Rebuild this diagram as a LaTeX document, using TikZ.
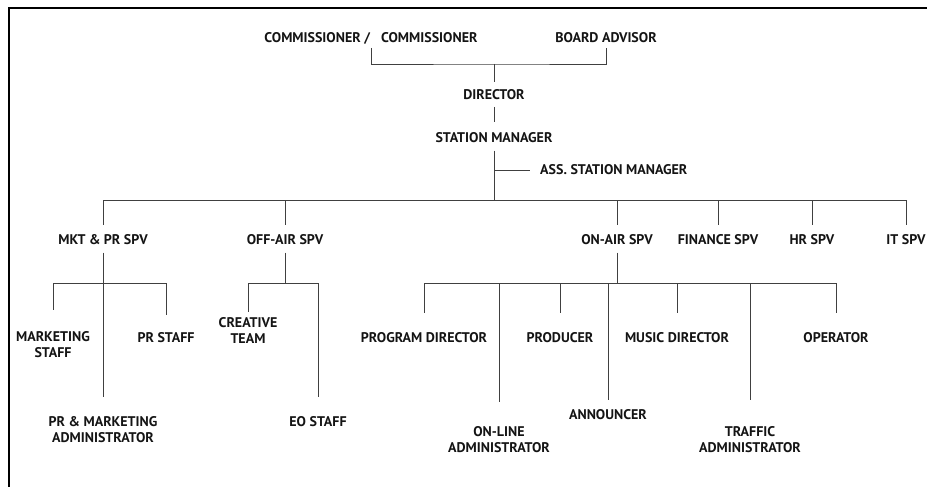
\documentclass[tikz,border=0pt]{standalone}
\usepackage{fontspec}
\setmainfont{PT Sans}
\usepackage{tikz}

\begin{document}
\begin{tikzpicture}[x=1pt,y=-1pt,
  role/.style={font=\bfseries\fontsize{14}{16}\selectfont, text=black!92, inner sep=0pt, text height=9.6pt, text depth=0pt},
  role2/.style={font=\bfseries\fontsize{14}{16}\selectfont, text=black!92, inner sep=0pt, align=center},
  link/.style={draw=black!75, line width=0.9pt}]

\useasboundingbox (0,0) rectangle (927,487);
\draw[line width=2pt] (9,487) -- (9,8) -- (927,8);

\node[role] (comm) at (371,38) {COMMISSIONER /\hspace{0.8em}COMMISSIONER};
\node[role] (board) at (606,38) {BOARD ADVISOR};
\node[role] (dir) at (494,95) {DIRECTOR};
\node[role] (stn) at (494,138) {STATION MANAGER};
\node[role, anchor=west] (ass) at (540,170) {ASS. STATION MANAGER};

\node[role] (mkt) at (103,240) {MKT \& PR SPV};
\node[role] (off) at (285,240) {OFF-AIR SPV};
\node[role] (on) at (617,240) {ON-AIR SPV};
\node[role] (fin) at (718,240) {FINANCE SPV};
\node[role] (hr) at (812,240) {HR SPV};
\node[role] (it) at (906,240) {IT SPV};

\node[role2] (mstaff) at (53,345) {MARKETING\\STAFF};
\node[role] (prstaff) at (166,338) {PR STAFF};
\node[role2] (prmkt) at (103,430) {PR \& MARKETING\\ADMINISTRATOR};

\node[role2] (creative) at (248,330.5) {CREATIVE\\TEAM};
\node[role] (eo) at (318,422) {EO STAFF};

\node[role] (prog) at (424,338) {PROGRAM DIRECTOR};
\node[role2] (online) at (499,440) {ON-LINE\\ADMINISTRATOR};
\node[role] (prod) at (560,338) {PRODUCER};
\node[role] (annc) at (608,415) {ANNOUNCER};
\node[role] (music) at (677,338) {MUSIC DIRECTOR};
\node[role2] (traffic) at (750,440) {TRAFFIC\\ADMINISTRATOR};
\node[role] (oper) at (836,338) {OPERATOR};

\coordinate (top) at (494,64);
\coordinate (bus) at (494,200);
\coordinate (sub) at (0,283);

% top of the chart
\draw[link, shorten <=5pt, shorten >=5pt] (comm.south) |- (top) -| (board.south);
\draw[link, shorten >=8pt] (top) -- (dir.north);
\draw[link, shorten <=7pt, shorten >=11pt] (dir.south) -- (stn.north);
\draw[link, shorten <=7.5pt] (stn.south) -- (bus);
\draw[link, shorten >=10pt] (stn.south |- ass) -- (ass.west);

% supervisors
\draw[link] (mkt.north |- bus) -- (it.north |- bus);
\draw[link, shorten >=10pt] (mkt.north |- bus) -- (mkt.north);
\draw[link, shorten >=10pt] (off.north |- bus) -- (off.north);
\draw[link, shorten >=10pt] (on.north |- bus) -- (on.north);
\draw[link, shorten >=10pt] (fin.north |- bus) -- (fin.north);
\draw[link, shorten >=10pt] (hr.north |- bus) -- (hr.north);
\draw[link, shorten >=10pt] (it.north |- bus) -- (it.north);

% marketing and pr
\draw[link, shorten <=7.5pt, shorten >=20pt] (mkt.south) -- (prmkt.north);
\draw[link] (mstaff.north |- sub) -- (prstaff.north |- sub);
\draw[link, shorten >=22pt] (mstaff.north |- sub) -- (mstaff.north);
\draw[link, shorten >=18pt] (prstaff.north |- sub) -- (prstaff.north);

% off air
\draw[link, shorten <=7.5pt] (off.south) -- (off.south |- sub);
\draw[link] (creative.north |- sub) -- (eo.north |- sub);
\draw[link, shorten >=5pt] (creative.north |- sub) -- (creative.north);
\draw[link, shorten >=20pt] (eo.north |- sub) -- (eo.north);

% on air
\draw[link, shorten <=7.5pt] (on.south) -- (on.south |- sub);
\draw[link] (prog.north |- sub) -- (oper.north |- sub);
\draw[link, shorten >=20pt] (prog.north |- sub) -- (prog.north);
\draw[link, shorten >=25pt] (online.north |- sub) -- (online.north);
\draw[link, shorten >=20pt] (prod.north |- sub) -- (prod.north);
\draw[link, shorten >=10pt] (annc.north |- sub) -- (annc.north);
\draw[link, shorten >=20pt] (music.north |- sub) -- (music.north);
\draw[link, shorten >=27pt] (traffic.north |- sub) -- (traffic.north);
\draw[link, shorten >=20pt] (oper.north |- sub) -- (oper.north);

\end{tikzpicture}
\end{document}
